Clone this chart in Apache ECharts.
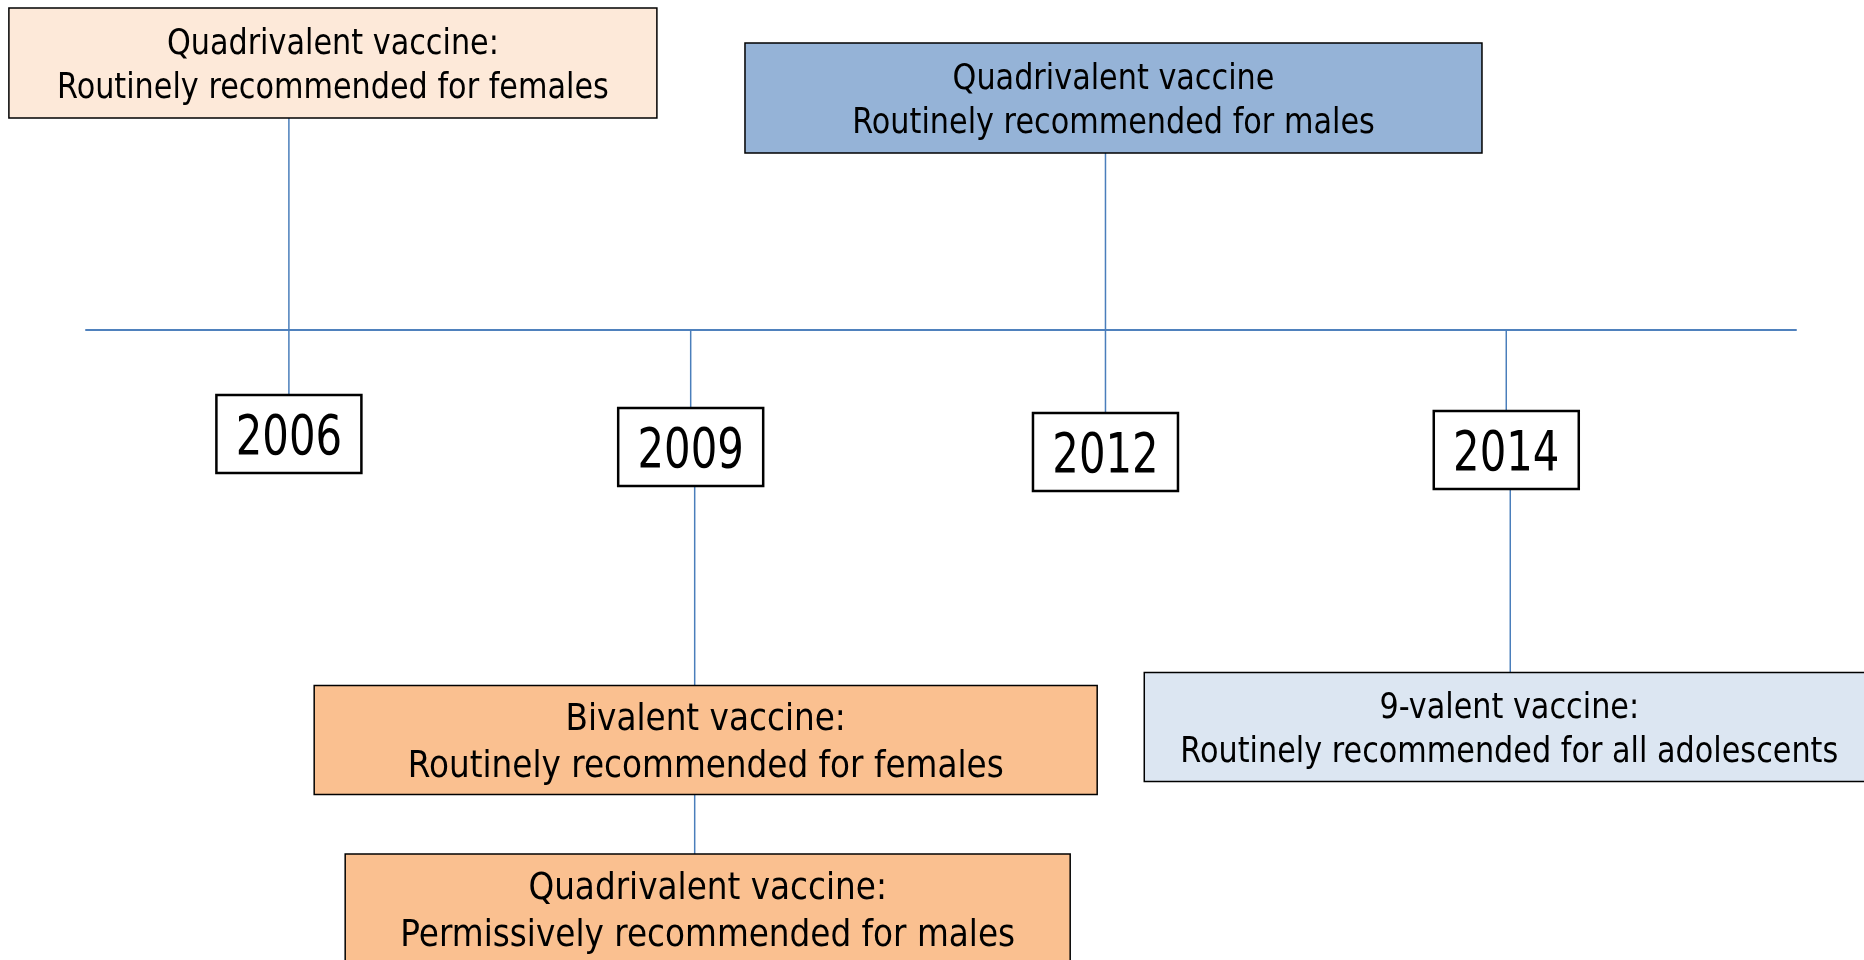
<!DOCTYPE html>
<html>
<head>
<meta charset="utf-8">
<style>
html, body { margin: 0; padding: 0; background: #fff; }
#timeline { width: 1864px; height: 960px; }
</style>
<script src="https://cdn.jsdelivr.net/npm/echarts@6/dist/echarts.min.js"></script>
</head>
<body>
<div id="timeline"></div>
<script>
// years shown on the timeline
const years = ['2006', '2009', '2012', '2014'];

// milestones: year, vaccine, recommendation
const milestoneYear = ['2006', '2012', '2009', '2009', '2014'];
const vaccineText = [
    'Quadrivalent vaccine:',
    'Quadrivalent vaccine',
    'Bivalent vaccine:',
    'Quadrivalent vaccine:',
    '9-valent vaccine:'
];
const recommendText = [
    'Routinely recommended for females',
    'Routinely recommended for males',
    'Routinely recommended for females',
    'Permissively recommended for males',
    'Routinely recommended for all adolescents'
];

// layout only (px, relative to the year's point on the axis line)
const yearBoxLayout = [
    { dx: 0, cy: 104 },
    { dx: -4, cy: 117 },
    { dx: 5, cy: 122 },
    { dx: 0, cy: 120 }
];
const milestoneLayout = [
    { dx: 44, cy: -267, w: 648, h: 110, fill: '#fde9d9', font: 35 },
    { dx: 13, cy: -232, w: 737, h: 110, fill: '#95b3d7', font: 35 },
    { dx: 11, cy: 410, w: 783, h: 109, fill: '#fac090', font: 37.8 },
    { dx: 13, cy: 579, w: 725, h: 110, fill: '#fac090', font: 37.8 },
    { dx: 3, cy: 397, w: 730, h: 109, fill: '#dce6f2', font: 35 }
];
const YEAR_W = 145, YEAR_H = 78;
const LINE_COLOR = '#4a7ebb';
const FONT = '"DejaVu Sans", Verdana, sans-serif';

function label(text, x, y, size, squeeze) {
    return {
        type: 'text',
        x: x,
        y: y,
        scaleX: squeeze,
        style: {
            text: text,
            x: 0,
            y: 0,
            fill: '#000',
            font: size + 'px ' + FONT,
            align: 'center',
            verticalAlign: 'middle',
            textAlign: 'center',
            textVerticalAlign: 'middle'
        }
    };
}

function connector(x, y1, y2) {
    return {
        type: 'line',
        shape: { x1: x, y1: y1, x2: x, y2: y2 },
        style: { stroke: LINE_COLOR, lineWidth: 1.5 }
    };
}

function renderYear(params, api) {
    const i = params.dataIndex;
    const v = api.value(0);
    const base = api.coord([v, 0]);
    const yb = yearBoxLayout[i];
    const cx = base[0] + yb.dx;
    const cy = api.coord([v, yb.cy])[1];
    const yearTop = cy - YEAR_H / 2;
    const yearBottom = cy + YEAR_H / 2;

    const mine = [];
    milestoneYear.forEach(function (y, k) { if (y === years[i]) mine.push(k); });
    const upper = mine.filter(function (k) { return milestoneLayout[k].cy < 0; });
    const lower = mine.filter(function (k) { return milestoneLayout[k].cy > 0; })
        .sort(function (a, b) { return milestoneLayout[a].cy - milestoneLayout[b].cy; });

    const lines = [];
    const boxes = [];

    let topY = base[1];
    if (upper.length) {
        const m = milestoneLayout[upper[0]];
        topY = api.coord([v, m.cy])[1] + m.h / 2;
    }
    lines.push(connector(cx, topY, yearTop));

    let prevBottom = yearBottom;
    lower.forEach(function (k) {
        const m = milestoneLayout[k];
        const mcy = api.coord([v, m.cy])[1];
        lines.push(connector(cx + 4, prevBottom, mcy - m.h / 2));
        prevBottom = mcy + m.h / 2;
    });

    mine.forEach(function (k) {
        const m = milestoneLayout[k];
        const mcx = base[0] + m.dx;
        const mcy = api.coord([v, m.cy])[1];
        const gap = m.font * 0.62;
        boxes.push({
            type: 'rect',
            shape: { x: mcx - m.w / 2, y: mcy - m.h / 2, width: m.w, height: m.h },
            style: { fill: m.fill, stroke: '#000', lineWidth: 1.5 }
        });
        boxes.push(label(vaccineText[k], mcx, mcy + 4 - gap, m.font, 0.865));
        boxes.push(label(recommendText[k], mcx, mcy + 4 + gap, m.font, 0.865));
    });

    boxes.push({
        type: 'rect',
        shape: { x: cx - YEAR_W / 2, y: yearTop, width: YEAR_W, height: YEAR_H },
        style: { fill: '#fff', stroke: '#000', lineWidth: 2.5 }
    });
    boxes.push(label(years[i], cx, cy + 6, 55, 0.76));

    return { type: 'group', children: lines.concat(boxes) };
}

const chart = echarts.init(document.getElementById('timeline'));
chart.setOption({
    animation: false,
    backgroundColor: '#fff',
    grid: { left: 86, right: 68, top: 0, bottom: 0 },
    xAxis: {
        type: 'value',
        min: -0.5,
        max: 3.714,
        axisLine: { show: true, onZero: true, lineStyle: { color: '#4f81bd', width: 2 } },
        axisTick: { show: false },
        axisLabel: { show: false },
        splitLine: { show: false }
    },
    yAxis: {
        type: 'value',
        min: -330,
        max: 630,
        inverse: true,
        show: false,
        splitLine: { show: false }
    },
    series: [{
        type: 'custom',
        renderItem: renderYear,
        encode: { x: 0, y: 1 },
        clip: false,
        data: years.map(function (y, i) { return [i, 0]; })
    }]
});
</script>
</body>
</html>
